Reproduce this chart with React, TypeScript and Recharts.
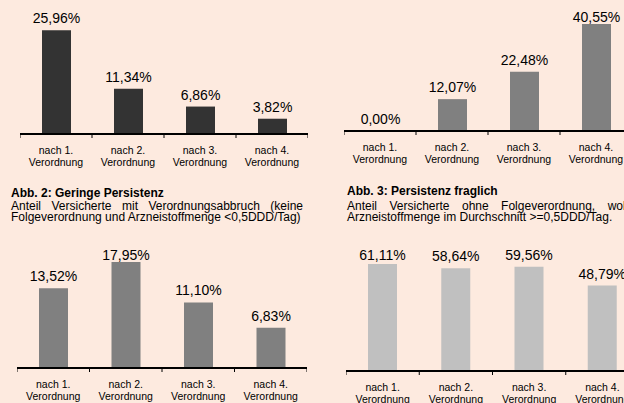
import React from 'react'
import { BarChart, Bar, XAxis, YAxis, LabelList } from 'recharts'

const FONT = '"Liberation Sans", Arial, Helvetica, sans-serif'
const BG = '#FDEADF'

// category labels (two lines: "nach n." / "Verordnung")
const categories = ['nach 1.', 'nach 2.', 'nach 3.', 'nach 4.']
const secondLine = 'Verordnung'

// values in %
const topLeftValues = [25.96, 11.34, 6.86, 3.82]
const topRightValues = [0.0, 12.07, 22.48, 40.55]
const geringeValues = [13.52, 17.95, 11.1, 6.83]
const fraglichValues = [61.11, 58.64, 59.56, 48.79]

const fmt = (v: any) => Number(v).toFixed(2).replace('.', ',') + '%'

const HEADROOM = 20

function CategoryTick(props: any) {
  const { x, y, payload, index, band, count } = props
  const half = band / 2
  return (
    <g>
      <line x1={x - half} y1={y} x2={x - half} y2={y + 4} stroke="#000" strokeWidth={1} />
      {index === count - 1 && <line x1={x + half} y1={y} x2={x + half} y2={y + 4} stroke="#000" strokeWidth={1} />}
      <text x={x} y={y + 19.5} textAnchor="middle" fontSize={10.5} fontFamily={FONT} fill="#000">
        {payload.value}
      </text>
      <text x={x} y={y + 32} textAnchor="middle" fontSize={10.5} fontFamily={FONT} fill="#000">
        {secondLine}
      </text>
    </g>
  )
}

// value label above the bar; like Excel it is kept inside the plot area,
// so a tall bar's label sits closer to the bar (minBaseline)
function makeValueLabel(minBaseline: number) {
  return (props: any) => {
    const vb = props.viewBox || props
    const x = vb.x + vb.width / 2
    const y = Math.max(vb.y - 7, minBaseline)
    return (
      <text x={x} y={y} textAnchor="middle" fontSize={14} fontFamily={FONT} fill="#000">
        {fmt(props.value)}
      </text>
    )
  }
}

type PanelProps = {
  values: number[]
  color: string
  left: number
  top: number // top of the plot area
  width: number
  plotHeight: number
  max: number
  labelLimit: number // lowest allowed label baseline, relative to plot top
}

function Panel({ values, color, left, top, width, plotHeight, max, labelLimit }: PanelProps) {
  const data = categories.map((c, i) => ({ name: c, value: values[i] }))
  const band = width / categories.length
  return (
    <div style={{ position: 'absolute', left, top: top - HEADROOM }}>
      <BarChart
        width={width}
        height={plotHeight + 40 + HEADROOM}
        data={data}
        margin={{ top: HEADROOM, right: 0, bottom: 0, left: 0 }}
      >
        <XAxis
          dataKey="name"
          height={40}
          interval={0}
          tickLine={false}
          tickSize={0}
          tickMargin={0}
          axisLine={{ stroke: '#000', strokeWidth: 2 }}
          tick={<CategoryTick band={band} count={categories.length} />}
        />
        <YAxis hide domain={[0, max]} allowDataOverflow />
        {/* tiny minPointSize so that a 0 % bar still gets its label */}
        <Bar dataKey="value" fill={color} barSize={29} minPointSize={0.01} isAnimationActive={false}>
          <LabelList dataKey="value" content={makeValueLabel(HEADROOM + labelLimit)} />
        </Bar>
      </BarChart>
    </div>
  )
}

const lineStyle = (top: number, left: number, width: number): React.CSSProperties => ({
  position: 'absolute',
  top,
  left,
  width,
  fontSize: 12,
  lineHeight: '11px',
  whiteSpace: 'nowrap',
})

export default function App() {
  return (
    <div
      style={{
        position: 'absolute',
        left: 0,
        top: 0,
        width: 624,
        height: 403,
        overflow: 'hidden',
        background: BG,
        fontFamily: FONT,
        color: '#000',
      }}
    >
      <Panel values={topLeftValues} color="#333333" left={20} top={4} width={288} plotHeight={130} max={32.5} labelLimit={0} />
      <Panel values={topRightValues} color="#808080" left={344} top={4} width={288} plotHeight={127} max={48.1} labelLimit={18} />
      <Panel values={geringeValues} color="#808080" left={17} top={244} width={290} plotHeight={124} max={21.0} labelLimit={16} />
      <Panel values={fraglichValues} color="#C0C0C0" left={346} top={244} width={293} plotHeight={127} max={72.5} labelLimit={16} />

      <div style={{ ...lineStyle(188.3, 11, 292), fontWeight: 'bold' }}>Abb. 2: Geringe Persistenz</div>
      <div style={{ ...lineStyle(200.6, 11, 292), textAlign: 'justify', textAlignLast: 'justify' }}>
        Anteil Versicherte mit Verordnungsabbruch (keine
      </div>
      <div style={lineStyle(211.8, 11, 292)}>Folgeverordnung und Arzneistoffmenge &lt;0,5DDD/Tag)</div>

      <div style={{ ...lineStyle(186.3, 347, 292), fontWeight: 'bold' }}>Abb. 3: Persistenz fraglich</div>
      <div style={{ ...lineStyle(200.6, 347, 292), textAlign: 'justify', textAlignLast: 'justify' }}>
        Anteil Versicherte ohne Folgeverordnung, wobei
      </div>
      <div style={lineStyle(212.3, 347, 292)}>Arzneistoffmenge im Durchschnitt &gt;=0,5DDD/Tag.</div>
    </div>
  )
}
